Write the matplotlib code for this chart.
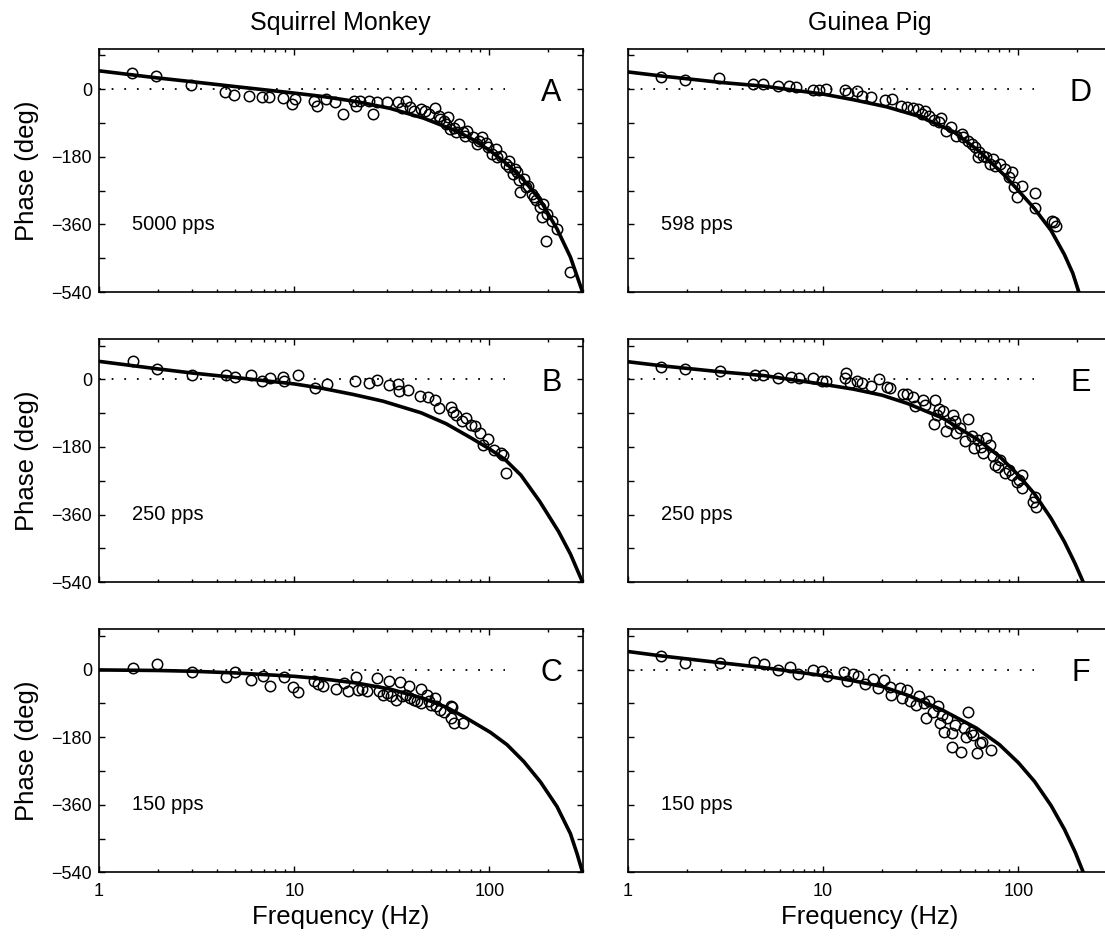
import matplotlib
matplotlib.use('Agg')
import matplotlib.pyplot as plt
from matplotlib.ticker import LogLocator, NullFormatter

plt.rcParams['font.family'] = ['Liberation Sans', 'DejaVu Sans']

# Squirrel monkey, 5000 pps (A)
a_freq = [1.48, 1.97, 2.95, 4.43, 4.94, 5.87, 6.86, 7.45, 8.8, 9.73, 10.1, 12.6, 13.1, 14.5, 16.2,
          17.7, 20.3, 20.8, 21.7, 24.3, 25.4, 26.5, 29.8, 34.1, 35.7, 37.3, 39.0, 41.0, 44.7, 46.8,
          49.0, 52.4, 54.9, 56.0, 58.8, 60.0, 61.5, 63.0, 65.9, 67.5, 70.2, 73.5, 75.0, 77.0, 82.2,
          86.0, 88.0, 92.0, 96.5, 98.5, 103.5, 108, 110, 115, 121, 126, 126, 132, 135, 138,
          141, 144, 151, 154, 158, 165, 169, 173, 181, 185, 189, 194, 198, 208, 222, 259]
a_phase = [44, 35, 11, -7, -15, -18, -22, -22, -24, -38, -25, -31, -44, -27, -34,
           -66, -31, -44, -31, -31, -66, -35, -35, -35, -49, -31, -47, -58, -53, -58,
           -66, -49, -71, -80, -84, -93, -75, -106, -102, -115, -93, -115, -124, -111, -128,
           -146, -137, -128, -142, -155, -173, -159, -181, -177, -199, -208, -190, -226, -212, -221,
           -243, -274, -239, -261, -257, -279, -288, -296, -314, -341, -305, -403, -332, -350, -372, -487]
a_fit_freq = [1, 2, 3, 5, 9.53, 14.1, 20.9, 31, 46, 68.2, 83, 101, 123, 150, 182.5, 222, 260, 300]
a_fit_phase = [49, 30, 20, 7, -9, -19.5, -33, -51, -77, -112, -135, -164, -199, -242, -296, -372, -447, -540]

# Squirrel monkey, 250 pps (B)
b_freq = [1.49, 1.99, 3.01, 4.48, 5.0, 6.0, 6.87, 7.5, 8.8, 8.9, 10.4, 12.8, 14.8, 20.6, 24.3,
          26.6, 30.6, 34.1, 34.4, 38.1, 44.0, 48.4, 52.4, 55.0, 63.2, 65.0, 67.5, 72.0, 76.0, 80.5,
          84.0, 90.0, 92.8, 98.5, 106, 114, 117, 122]
b_phase = [49, 27, 13, 12, 6, 13, -4, 3, 7, -4, 12, -22, -12, -4, -9,
           -2, -15, -13, -31, -27, -45, -46, -55, -76, -73, -87, -94, -112, -103, -121,
           -125, -143, -174, -158, -187, -196, -201, -250]
b_fit_freq = [1, 2, 3, 5, 10, 14, 20, 28.5, 44.7, 60, 80, 100, 120, 145, 181, 226, 260, 300]
b_fit_phase = [48, 28, 17, 5, -12, -24, -40, -58, -89, -118, -155, -185, -213, -255, -325, -405, -465, -540]

# Squirrel monkey, 150 pps (C)
c_freq = [1.5, 1.99, 3.01, 4.48, 5.0, 6.0, 6.96, 7.5, 8.9, 9.88, 10.5, 12.6, 13.2, 14.1, 16.4,
          17.9, 18.9, 20.8, 21.2, 22.2, 23.7, 26.6, 27.2, 28.5, 29.8, 30.6, 31.2, 33.4, 34.9, 35.7,
          37.3, 38.7, 39.0, 40.9, 42.7, 44.7, 44.7, 47.8, 48.9, 50.0, 52.4, 53.5, 56.0, 58.8, 63.2,
          64.0, 63.2, 65.9, 72.8]
c_phase = [3, 16, -6, -20, -7, -29, -18, -43, -20, -46, -61, -31, -38, -43, -52,
           -36, -56, -20, -55, -52, -58, -22, -58, -67, -62, -31, -71, -80, -33, -71,
           -67, -43, -76, -80, -85, -52, -89, -67, -85, -94, -76, -98, -107, -112, -96,
           -100, -129, -141, -141]
c_fit_freq = [1, 2, 3, 5, 10, 14.1, 20.9, 31, 46, 60, 73.8, 101, 123, 150, 182.5, 222, 260, 281, 300]
c_fit_phase = [-1, -2.5, -4.5, -9, -18, -25, -36, -52, -77, -100, -125, -167, -200, -245, -299, -365, -437, -490, -540]

# Guinea pig, 598 pps (D)
d_freq = [1.48, 1.97, 2.94, 4.38, 4.89, 5.9, 6.7, 7.3, 8.9, 9.5, 10.3, 12.9, 13.4, 14.9, 15.9,
          17.6, 20.8, 22.5, 24.9, 27.0, 28.8, 30.6, 31.9, 33.3, 34.7, 36.9, 39.3, 40.0, 42.7, 45.3,
          48.1, 51.2, 52.0, 55.4, 57.8, 60.2, 61.8, 63.0, 65.6, 68.4, 71.3, 74.2, 75.8, 80.5, 85.6,
          89.1, 92.8, 94.6, 98.5, 104.7, 121, 121, 148, 152, 155]
d_phase = [33, 25, 29, 13, 15, 8, 8, 6, -3, -3, 0, -3, -9, -4, -18,
           -20, -29, -27, -44, -47, -49, -53, -66, -58, -71, -82, -88, -77, -111, -100,
           -124, -119, -128, -137, -146, -155, -181, -168, -177, -181, -199, -186, -204, -199, -212,
           -235, -221, -261, -288, -257, -277, -316, -350, -354, -363]
d_fit_freq = [1, 1.5, 3, 5, 10, 14.3, 21.2, 31.4, 46.5, 63, 86, 121, 147, 172, 190, 204]
d_fit_phase = [46, 35, 18, 8, -13, -28, -47, -73, -113, -165, -232, -318, -376, -440, -490, -540]

# Guinea pig, 250 pps (E)
e_freq = [1.48, 1.97, 2.96, 4.47, 4.94, 5.9, 6.87, 7.5, 8.9, 9.9, 10.3, 12.9, 13.1, 13.8, 14.9,
          15.9, 17.6, 19.4, 21.2, 22.0, 25.5, 27.0, 28.8, 29.4, 32.6, 33.3, 36.9, 37.3, 38.4, 39.3,
          40.9, 42.7, 44.7, 46.3, 47.2, 48.1, 50.3, 53.3, 55.4, 57.8, 59.0, 61.8, 64.3, 65.6, 68.4,
          71.3, 74.2, 75.8, 79.0, 80.5, 85.6, 89.0, 93.0, 98.5, 100.5, 104.7, 104.7, 119, 121, 123]
e_phase = [33, 29, 22, 13, 11, 4, 7, 3, 4, -3, -4, 4, 16, -9, -4,
           -9, -18, 0, -20, -24, -38, -40, -47, -71, -54, -67, -120, -54, -94, -80,
           -85, -138, -116, -94, -112, -143, -129, -165, -105, -152, -183, -161, -179, -196, -156,
           -174, -205, -228, -232, -214, -250, -241, -254, -272, -268, -254, -290, -326, -312, -339]
e_fit_freq = [1, 1.5, 3, 5, 10, 14.3, 20, 27, 40.9, 61.8, 80, 100, 121, 147, 172, 195, 215]
e_fit_phase = [47, 36, 20, 10, -13, -26, -42, -64, -103, -160, -205, -255, -305, -370, -432, -490, -540]

# Guinea pig, 150 pps (F)
f_freq = [1.48, 1.97, 2.96, 4.43, 4.97, 5.9, 6.8, 7.4, 8.9, 9.85, 10.4, 12.8, 13.3, 14.3, 15.0,
          16.3, 17.9, 19.2, 20.6, 21.9, 22.3, 24.8, 25.4, 27.0, 28.0, 29.8, 31.0, 33.0, 33.6, 35.0,
          36.6, 38.9, 39.8, 40.5, 41.4, 43.0, 45.6, 45.6, 47.5, 50.8, 52.9, 54.0, 55.5, 57.3, 58.5,
          61.2, 63.7, 65.0, 72.0]
f_phase = [36, 18, 18, 21, 15, 0, 6, -11, 0, -3, -18, -6, -31, -13, -18,
           -38, -25, -49, -29, -46, -67, -49, -76, -55, -85, -94, -71, -89, -129, -85,
           -112, -98, -143, -120, -165, -129, -170, -205, -147, -219, -156, -179, -112, -165, -174,
           -223, -196, -192, -214]
f_fit_freq = [1, 1.5, 3, 5, 10, 14.3, 20, 27, 40.5, 61, 80, 100, 121, 147, 172, 195, 215]
f_fit_phase = [48, 36, 18, 5, -16, -30, -45, -68, -107, -156, -200, -248, -298, -362, -425, -485, -540]

species = ['Squirrel Monkey', 'Guinea Pig']
letters = ['A', 'B', 'C', 'D', 'E', 'F']
rates = ['5000 pps', '250 pps', '150 pps', '598 pps', '250 pps', '150 pps']
x_ticks = [1, 10, 100]
x_ticklabels = ['1', '10', '100']
y_ticks = [-540, -450, -360, -270, -180, -90, 0, 90]
y_ticklabels = ['\u2212540', '', '\u2212360', '', '\u2212180', '', '0', '']

points = [(a_freq, a_phase), (b_freq, b_phase), (c_freq, c_phase),
          (d_freq, d_phase), (e_freq, e_phase), (f_freq, f_phase)]
fits = [(a_fit_freq, a_fit_phase), (b_fit_freq, b_fit_phase), (c_fit_freq, c_fit_phase),
        (d_fit_freq, d_fit_phase), (e_fit_freq, e_fit_phase), (f_fit_freq, f_fit_phase)]

fig = plt.figure(figsize=(11.05, 9.36), dpi=100)

lefts = [0.0896, 0.5683]
bottoms = [0.688, 0.378, 0.068]
w, h = 0.4376, 0.26

for i in range(6):
    col, row = i // 3, i % 3
    ax = fig.add_axes([lefts[col], bottoms[row], w, h])
    ax.set_xscale('log')

    ax.plot([1, 120], [0, 0], color='k', lw=1.3, ls=(0, (1, 6)))
    ax.plot(fits[i][0], fits[i][1], color='k', lw=2.6, solid_joinstyle='round')
    ax.plot(points[i][0], points[i][1], 'o', mfc='none', mec='k', ms=7.5, mew=1.1)

    ax.text(208, -10, letters[i], fontsize=22, ha='center', va='center')
    ax.text(1.48, -360, rates[i], fontsize=14.5, ha='left', va='center')

    ax.set_xlim(1, 300)
    ax.set_ylim(-540, 108)
    ax.set_xticks(x_ticks)
    ax.xaxis.set_minor_locator(LogLocator(base=10, subs=range(2, 10)))
    ax.xaxis.set_minor_formatter(NullFormatter())
    ax.set_yticks(y_ticks)

    ax.tick_params(which='both', direction='in', top=True, right=True, width=1, labelsize=13)
    ax.tick_params(which='major', length=4)
    ax.tick_params(which='minor', length=2)
    ax.tick_params(axis='x', pad=8)
    ax.tick_params(axis='y', pad=5)
    for s in ax.spines.values():
        s.set_linewidth(1.2)

    if row == 2:
        ax.set_xticklabels(x_ticklabels)
        ax.set_xlabel('Frequency (Hz)', fontsize=18.5)
        ax.xaxis.set_label_coords(0.5, -0.135)
    else:
        ax.set_xticklabels([])

    if col == 0:
        ax.set_yticklabels(y_ticklabels)
        ax.set_ylabel('Phase (deg)', fontsize=18.5)
        ax.yaxis.set_label_coords(-0.125, 0.5)
    else:
        ax.set_yticklabels([])

    if row == 0:
        fig.text(lefts[col] + w / 2, 0.975, species[col], fontsize=18, ha='center', va='center')

fig.savefig('out.png', dpi=100)
